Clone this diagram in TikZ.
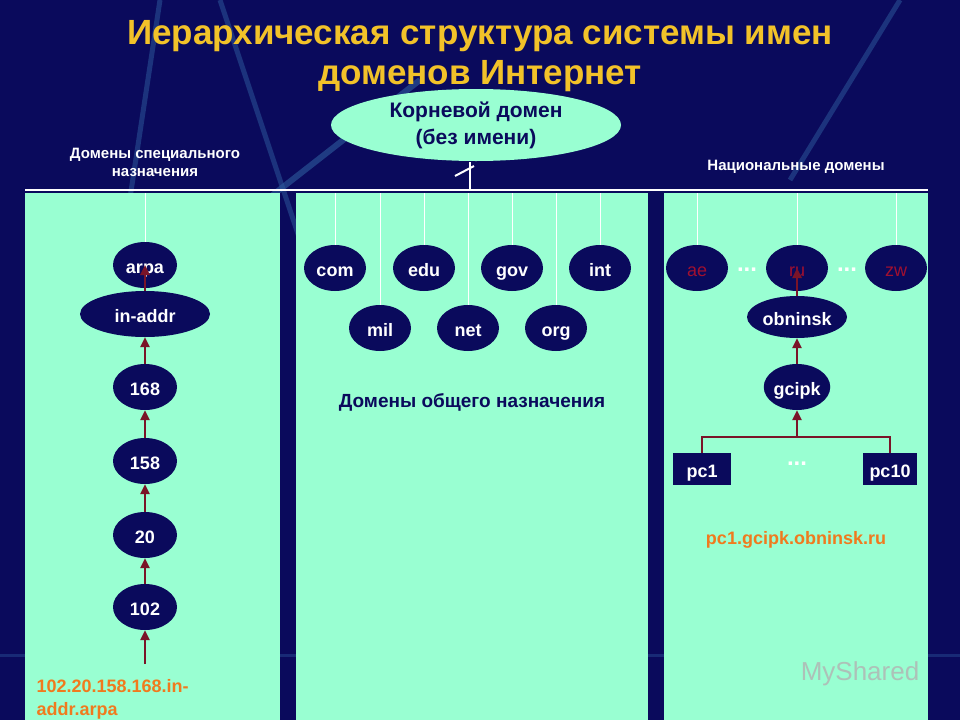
\documentclass[tikz,border=0pt]{standalone}
\usepackage{fontspec}
\setmainfont{Liberation Sans}
\usetikzlibrary{shapes.geometric,arrows.meta}
\definecolor{navy}{HTML}{0A0A5C}
\definecolor{aqua}{HTML}{99FFD2}
\definecolor{gold}{HTML}{F2C229}
\definecolor{arr}{HTML}{7A1428}
\definecolor{redt}{HTML}{A01030}
\definecolor{orng}{HTML}{F07A1E}
\definecolor{streak}{HTML}{2E5C9E}
\tikzset{
 dn/.style={ellipse,fill=navy,inner sep=0pt,text=white,text height=16pt,text depth=0pt,font=\bfseries\fontsize{18}{18}\selectfont},
 pcbox/.style={rectangle,fill=navy,inner sep=0pt,text=white,text height=16pt,text depth=0pt,font=\bfseries\fontsize{18}{18}\selectfont},
 wl/.style={white,line width=0.8pt},
 ar/.style={arr,line width=2.4pt,-{Triangle[length=10pt,width=9pt]}},
 lbl/.style={text=white,font=\bfseries\fontsize{15}{18}\selectfont,align=center},
}
\begin{document}
\begin{tikzpicture}[x=1pt,y=-1pt]
\fill[navy] (0,0) rectangle (960,720);
\useasboundingbox (0,0) rectangle (960,720);
% decorative streaks
\draw[streak,line width=6pt,opacity=0.6] (100,330) -- (420,80);
\draw[streak,line width=5pt,opacity=0.5] (160,0) -- (110,330);
\draw[streak,line width=5pt,opacity=0.5] (220,0) -- (330,330);
\draw[streak,line width=5pt,opacity=0.5] (790,180) -- (900,0);
\draw[streak,line width=3pt,opacity=0.4] (0,655) -- (960,655);
% title
\node[text=gold,font=\bfseries\fontsize{35}{40}\selectfont,align=center] (title) at (480,56) {Иерархическая структура системы имен\\доменов Интернет};
% panels
\fill[aqua] (25,193) rectangle (280,720);
\fill[aqua] (296,193) rectangle (648,720);
\fill[aqua] (664,193) rectangle (928,720);
\draw[white,line width=2.5pt] (25,190) -- (928,190);
% root
\node[ellipse,fill=aqua,minimum width=290,minimum height=72,inner sep=0pt,text=navy,font=\bfseries\fontsize{21}{27}\selectfont,align=center] (root) at (476,125) {Корневой домен\\(без имени)};
\coordinate (rb) at (470,190);
\draw[white,line width=2pt] (rb) -- (470,162);
\draw[white,line width=2pt] (455,176) -- (474,166);
\node[lbl] (spec) at (155,162) {Домены специального\\назначения};
\node[lbl] (nat) at (796,167) {Национальные домены};
% left chain
\node[dn,minimum width=64,minimum height=46] (arpa) at (145,265) {arpa};
\node[dn,minimum width=130,minimum height=46] (inaddr) at (145,314) {in-addr};
\node[dn,minimum width=64,minimum height=46] (n168) at (145,387) {168};
\node[dn,minimum width=64,minimum height=46] (n158) at (145,461) {158};
\node[dn,minimum width=64,minimum height=46] (n20) at (145,535) {20};
\node[dn,minimum width=64,minimum height=46] (n102) at (145,607) {102};
\coordinate (c102) at (145,664);
\draw[wl] (145,193) -- (arpa.north);
\draw[ar] (c102) -- (n102.south);
\draw[ar] (n102.north) -- (n20.south);
\draw[ar] (n20.north) -- (n158.south);
\draw[ar] (n158.north) -- (n168.south);
\draw[ar] (n168.north) -- (inaddr.south);
\draw[ar] (inaddr.north) -- (arpa.center);
% middle
\foreach \n/\x/\y in {com/335/268,edu/424/268,gov/512/268,int/600/268,mil/380/328,net/468/328,org/556/328}{
 \node[dn,minimum width=62,minimum height=46] (\n) at (\x,\y) {\n};
 \draw[wl] (\x,193) -- (\n.north);
}
\node[text=navy,font=\bfseries\fontsize{19}{22}\selectfont] (gen) at (472,402) {Домены общего назначения};
% right
\foreach \n/\x in {ae/697,ru/797,zw/896}{
 \node[dn,minimum width=62,minimum height=46,text=redt,font=\fontsize{18}{18}\selectfont] (\n) at (\x,268) {\n};
 \draw[wl] (\x,193) -- (\n.north);
}
\node[text=white,font=\bfseries\fontsize{24}{24}\selectfont] (d1) at (747,270) {...};
\node[text=white,font=\bfseries\fontsize{24}{24}\selectfont] (d2) at (847,270) {...};
\node[dn,minimum width=100,minimum height=42] (obn) at (797,317) {obninsk};
\node[dn,minimum width=64,minimum height=46] (gcipk) at (797,387) {gcipk};
\node[pcbox,minimum width=58,minimum height=32] (pc1) at (702,469) {pc1};
\node[pcbox,minimum width=54,minimum height=32] (pc10) at (890,469) {pc10};
\node[text=white,font=\bfseries\fontsize{24}{24}\selectfont] (d3) at (797,464) {...};
\coordinate (br) at (797,437);
\draw[ar] (obn.north) -- (ru.center);
\draw[ar] (gcipk.north) -- (obn.south);
\draw[arr,line width=2.4pt] (pc1.north) |- (br) -| (pc10.north);
\draw[ar] (br) -- (gcipk.south);
\node[text=orng,font=\bfseries\fontsize{18}{20}\selectfont] (addr1) at (796,540) {pc1.gcipk.obninsk.ru};
\node[text=orng,font=\bfseries\fontsize{18}{23}\selectfont,align=left,anchor=north west] (addr2) at (33,676) {102.20.158.168.in-\\addr.arpa};
\node[text=gray!60,font=\fontsize{26}{26}\selectfont,opacity=0.8] (wm) at (860,674) {MyShared};
\end{tikzpicture}
\end{document}
